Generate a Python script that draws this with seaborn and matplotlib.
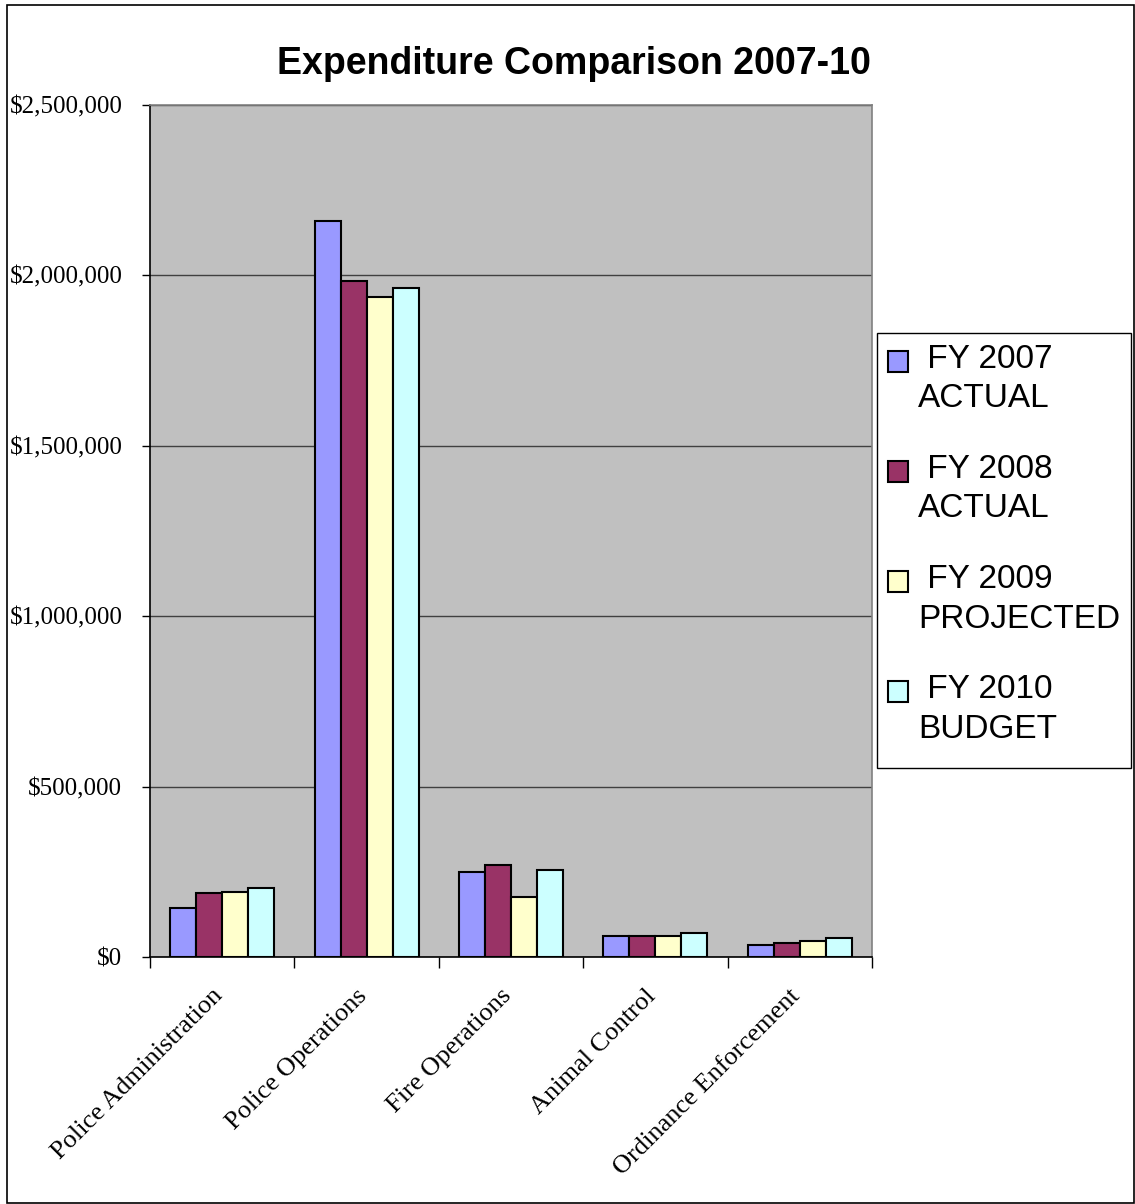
import matplotlib
matplotlib.use('Agg')
import matplotlib.pyplot as plt
import matplotlib.ticker as mticker
import matplotlib.transforms as mtrans
from matplotlib.patches import Rectangle
import pandas as pd
import seaborn as sns

categories = ['Police Administration', 'Police Operations', 'Fire Operations',
              'Animal Control', 'Ordinance Enforcement']
series = [' FY 2007\nACTUAL', ' FY 2008\nACTUAL', ' FY 2009\nPROJECTED', ' FY 2010\nBUDGET']
fy2007 = [145000, 2161000, 249000, 62000, 35000]
fy2008 = [187000, 1985000, 270000, 62000, 41000]
fy2009 = [192000, 1938000, 177000, 62000, 47000]
fy2010 = [202000, 1964000, 254000, 72000, 56000]
colors = ['#9999FF', '#993366', '#FFFFCC', '#CCFFFF']

rows = []
for name, vals in zip(series, [fy2007, fy2008, fy2009, fy2010]):
    for cat, v in zip(categories, vals):
        rows.append({'category': cat, 'series': name, 'value': v})
df = pd.DataFrame(rows)

sns.set_style('white')
for k in ['text.color', 'axes.labelcolor', 'xtick.color', 'ytick.color']:
    plt.rcParams[k] = 'black'

DPI = 100
W, H = 1135, 1204
fig = plt.figure(figsize=(W / DPI, H / DPI), dpi=DPI)
ax = fig.add_axes([0.1322, 0.2051, 0.636, 0.7077])
ax.set_facecolor('#C0C0C0')

sns.barplot(data=df, x='category', y='value', hue='series', palette=colors,
            width=0.72, gap=0, edgecolor='black', linewidth=1.5, saturation=1,
            ax=ax, legend=True)

ax.set_ylim(0, 2500000)
ax.set_xlim(-0.5, 4.5)
ax.set_yticks(range(0, 2500001, 500000))
ax.yaxis.set_major_formatter(mticker.FuncFormatter(lambda v, p: '${:,.0f}'.format(v)))
ax.yaxis.grid(True, color='#404040', linewidth=1)
ax.set_axisbelow(True)
ax.set_xlabel('')
ax.set_ylabel('')

for s in ax.spines.values():
    s.set_color('#808080')
    s.set_linewidth(1.2)
ax.spines['bottom'].set_color('black')
ax.spines['left'].set_color('black')

ax.tick_params(axis='y', direction='out', length=6, width=1, left=True,
               labelsize=18, pad=14)
ax.set_xticks([0, 1, 2, 3, 4])
ax.set_xticks([-0.5, 0.5, 1.5, 2.5, 3.5, 4.5], minor=True)
ax.tick_params(axis='x', which='major', length=0, pad=20)
ax.tick_params(axis='x', which='minor', direction='out', length=8, width=1, bottom=True)
for lbl in ax.get_yticklabels():
    lbl.set_fontfamily('Liberation Serif')
ax.set_xticklabels(categories, rotation=45, ha='right', va='top', rotation_mode='anchor',
                   fontsize=19, fontfamily='Liberation Serif')
shift = mtrans.ScaledTranslation(-0.11, 0, fig.dpi_scale_trans)
for lbl in ax.get_xticklabels():
    lbl.set_transform(lbl.get_transform() + shift)

fig.suptitle('Expenditure Comparison 2007-10', x=0.506, y=0.962, fontsize=27,
             fontweight='bold', fontfamily='Liberation Sans')

handles, labels = ax.get_legend_handles_labels()
ax.get_legend().remove()
leg_fs = 24
leg = fig.legend(handles, labels, loc='upper left', bbox_to_anchor=(877 / W, 1 - 333 / H),
                 frameon=False, prop={'family': 'Liberation Sans', 'size': leg_fs},
                 handlelength=0.6, handleheight=0.6, handletextpad=0.3,
                 labelspacing=1.19, borderpad=0.33, borderaxespad=0)
for txt in leg.get_texts():
    txt.set_linespacing(1.35)

# legend frame (fixed box, like the original)
fig.patches.append(Rectangle((877 / W, 1 - 768 / H), 254 / W, 435 / H,
                             transform=fig.transFigure, facecolor='white',
                             edgecolor='black', linewidth=1, zorder=2))
# outer border
fig.patches.append(Rectangle((0.006, 0.001), 0.993, 0.995, transform=fig.transFigure,
                             fill=False, edgecolor='black', linewidth=1.2))

# line the legend boxes up with the first line of each label
fig.canvas.draw()
fs_px = leg_fs * DPI / 72
for patch, txt in zip(leg.get_patches(), leg.get_texts()):
    tb = txt.get_window_extent()
    pb = patch.get_window_extent()
    dy = (tb.y1 - 0.2 * fs_px) - pb.y1
    patch.set_y(patch.get_y() + dy * 72 / DPI)

fig.savefig('out.png', dpi=DPI, facecolor='white')
